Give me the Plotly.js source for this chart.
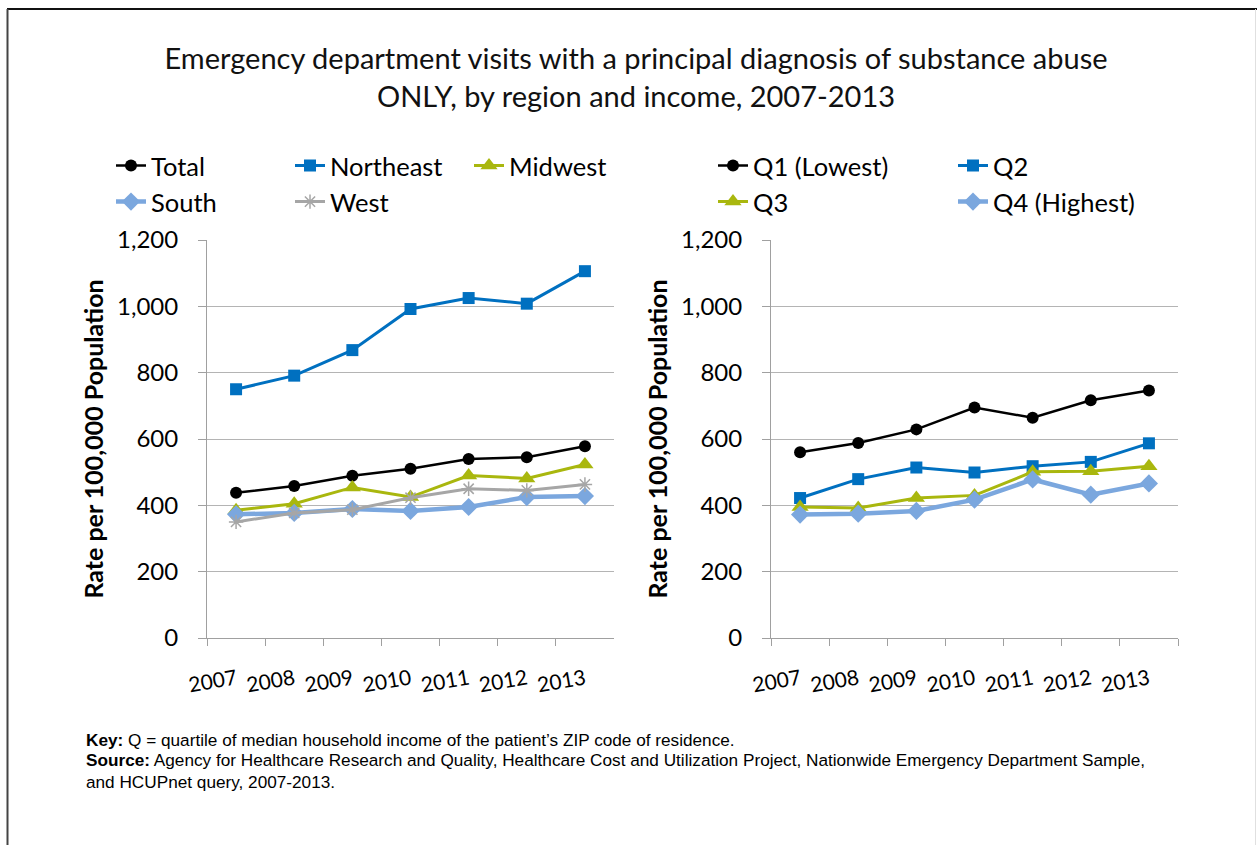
<!DOCTYPE html>
<html>
<head>
<meta charset="utf-8">
<script src="https://cdn.plot.ly/plotly-3.0.1.min.js"></script>
<style>
  html, body { margin: 0; padding: 0; background: #fff; }
  #chart { width: 1257px; height: 845px; }
</style>
</head>
<body>
<div id="chart"></div>
<script>
// ---- data ----
const years = ['2007', '2008', '2009', '2010', '2011', '2012', '2013'];
const total = [438, 458, 489, 510, 540, 545, 578];
const northeast = [750, 791, 868, 992, 1025, 1008, 1106];
const midwest = [385, 405, 454, 425, 490, 481, 523];
const south = [373, 377, 389, 383, 395, 425, 428];
const west = [350, 377, 387, 423, 450, 445, 463];
const q1 = [560, 588, 629, 695, 664, 717, 746];
const q2 = [422, 479, 514, 499, 518, 531, 587];
const q3 = [395, 392, 422, 430, 501, 503, 518];
const q4 = [372, 375, 383, 417, 478, 432, 466];
const yTicks = [0, 200, 400, 600, 800, 1000, 1200];

const FONT = 'Lato, "Open Sans", sans-serif';
const FOOT = '"Liberation Sans", Arial, sans-serif';
const C_BLACK = '#000000', C_BLUE = '#0070C0', C_OLIVE = '#A9B70E', C_LBLUE = '#7BA7DE', C_GRAY = '#A6A6A6';

function tr(name, y, color, symbol, msize, lw, xa, ya, legend) {
  return {
    type: 'scatter', mode: 'lines+markers', name: name, x: years, y: y,
    xaxis: xa, yaxis: ya, legend: legend,
    line: {color: color, width: lw},
    marker: {color: color, symbol: symbol, size: msize,
             line: {color: color, width: symbol === 'asterisk-open' ? 1.5 : 0}}
  };
}

const data = [
  tr('Total', total, C_BLACK, 'circle', 12, 2.5, 'x', 'y', 'legend'),
  tr('Northeast', northeast, C_BLUE, 'square', 12, 3, 'x', 'y', 'legend'),
  tr('Midwest', midwest, C_OLIVE, 'triangle-up', 15, 3, 'x', 'y', 'legend'),
  tr('South', south, C_LBLUE, 'diamond', 14, 4.5, 'x', 'y', 'legend2'),
  tr('West', west, C_GRAY, 'asterisk-open', 12, 3, 'x', 'y', 'legend2'),
  tr('Q1 (Lowest)', q1, C_BLACK, 'circle', 12, 2.5, 'x2', 'y2', 'legend3'),
  tr('Q2', q2, C_BLUE, 'square', 12, 3, 'x2', 'y2', 'legend3'),
  tr('Q3', q3, C_OLIVE, 'triangle-up', 15, 3, 'x2', 'y2', 'legend4'),
  tr('Q4 (Highest)', q4, C_LBLUE, 'diamond', 14, 4.5, 'x2', 'y2', 'legend4')
];

const W = 1257, H = 845;
const px = v => v / W;
const py = v => 1 - v / H;

function xaxis(d0, d1, anchor) {
  return {
    domain: [px(d0), px(d1)], anchor: anchor, type: 'category',
    range: [-0.5, 6.5], tickson: 'boundaries', ticks: 'outside', ticklen: 7,
    tickcolor: '#A0A0A0', showline: true, linecolor: '#A0A0A0', linewidth: 1,
    showgrid: false, zeroline: false, tickangle: -10,
    ticklabelstandoff: 20,
    tickfont: {family: FONT, size: 21, color: '#000'}, fixedrange: true
  };
}
function yaxis(anchor) {
  return {
    domain: [py(638), py(240)], anchor: anchor, range: [0, 1200],
    tickvals: yTicks, tickformat: ',d', ticks: 'outside', ticklen: 8,
    tickcolor: '#A0A0A0', showline: true, linecolor: '#A0A0A0', linewidth: 1,
    showgrid: true, gridcolor: '#B4B4B4', gridwidth: 1, zeroline: false,
    ticklabelstandoff: 15,
    tickfont: {family: FONT, size: 24, color: '#000'},
    title: {text: '<b>Rate per 100,000 Population</b>', standoff: 6,
            font: {family: FONT, size: 25, color: '#000'}},
    fixedrange: true
  };
}

function leg(x, y, ew) {
  return {x: px(x), y: py(y), xanchor: 'left', yanchor: 'middle', orientation: 'h',
          entrywidth: ew, entrywidthmode: 'pixels', bgcolor: 'rgba(0,0,0,0)',
          font: {family: FONT, size: 25.5, color: '#000'}, itemwidth: 30,
          traceorder: 'normal'};
}

const layout = {
  width: W, height: H,
  margin: {l: 0, r: 0, t: 0, b: 0},
  paper_bgcolor: '#fff', plot_bgcolor: '#fff',
  showlegend: true,
  title: {text: 'Emergency department visits with a principal diagnosis of substance abuse<br>ONLY, by region and income, 2007-2013',
          x: 0.506, xanchor: 'center', y: py(69), yanchor: 'middle',
          font: {family: FONT, size: 29, color: '#111'}},
  xaxis: xaxis(207, 614, 'y'),
  yaxis: yaxis('x'),
  xaxis2: xaxis(771, 1178, 'y2'),
  yaxis2: yaxis('x2'),
  legend: leg(111, 166, 134),
  legend2: leg(111, 202, 134),
  legend3: leg(713, 166, 195),
  legend4: leg(713, 202, 195),
  shapes: [
    {type: 'line', xref: 'paper', yref: 'paper', x0: px(7), x1: 1, y0: py(9), y1: py(9), line: {color: '#111', width: 2}},
    {type: 'line', xref: 'paper', yref: 'paper', x0: px(7.5), x1: px(7.5), y0: py(9), y1: 0, line: {color: '#444', width: 2}},
    {type: 'line', xref: 'paper', yref: 'paper', x0: px(1255.5), x1: px(1255.5), y0: py(9), y1: 0, line: {color: '#E0E0E0', width: 1}}
  ],
  annotations: [
    {xref: 'paper', yref: 'paper', x: px(84), y: py(740), xanchor: 'left', yanchor: 'middle', showarrow: false, align: 'left',
     text: '<b>Key:</b> Q = quartile of median household income of the patient’s ZIP code of residence.',
     font: {family: FOOT, size: 17.2, color: '#000'}},
    {xref: 'paper', yref: 'paper', x: px(84), y: py(771), xanchor: 'left', yanchor: 'middle', showarrow: false, align: 'left',
     text: '<b>Source:</b> Agency for Healthcare Research and Quality, Healthcare Cost and Utilization Project, Nationwide Emergency Department Sample,<br>and HCUPnet query, 2007-2013.',
     font: {family: FOOT, size: 17.2, color: '#000'}}
  ]
};

Plotly.newPlot('chart', data, layout, {displayModeBar: false, staticPlot: true});
</script>
</body>
</html>
